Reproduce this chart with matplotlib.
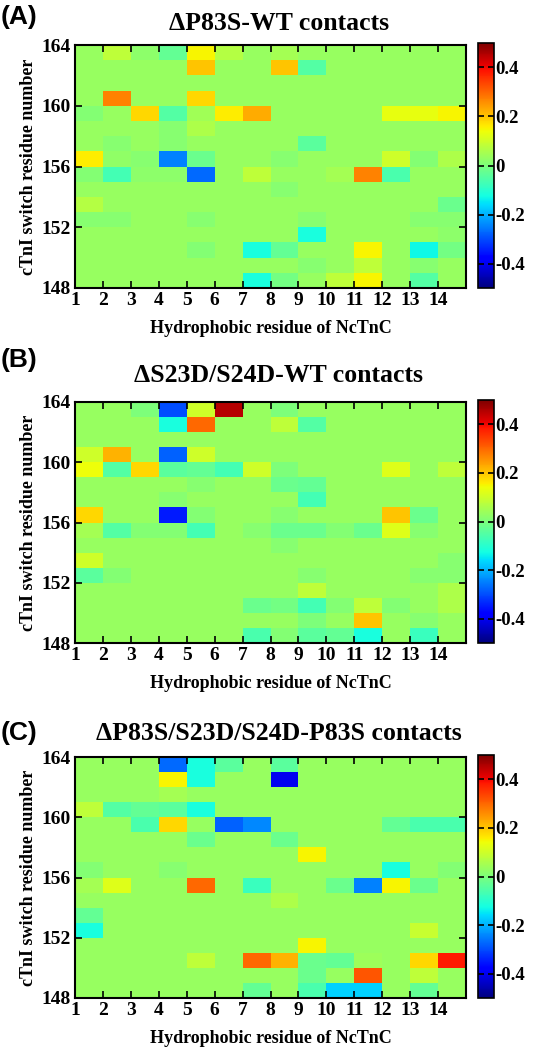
import numpy as np
import matplotlib
matplotlib.use("Agg")
import matplotlib.pyplot as plt

plt.rcParams["axes.unicode_minus"] = False
SERIF = "Liberation Serif"

# Data: contact differences, rows listed top (163) -> bottom (148), cols 1..14
BG = 0.035
residues_x = np.arange(1, 16)       # cell edges, NcTnC hydrophobic residue
residues_y = np.arange(148, 165)    # cell edges, cTnI switch residue

diff_a = [
    [BG, 0.08, 0.02, -0.03, 0.15, 0.07, BG, 0.05, BG, BG, BG, BG, BG, BG],
    [BG, BG, BG, BG, 0.20, BG, BG, 0.20, -0.05, BG, BG, BG, BG, BG],
    [BG, BG, BG, BG, BG, BG, BG, BG, BG, BG, BG, BG, BG, BG],
    [BG, 0.27, BG, BG, 0.18, BG, BG, BG, BG, BG, BG, BG, BG, BG],
    [0.01, BG, 0.18, -0.05, 0.045, 0.16, 0.23, BG, BG, BG, BG, 0.13, 0.13, 0.15],
    [BG, BG, BG, 0.015, 0.06, BG, BG, BG, BG, BG, BG, BG, BG, BG],
    [BG, 0.015, BG, 0.015, BG, BG, BG, BG, -0.04, BG, BG, BG, BG, BG],
    [0.16, 0.025, 0.015, -0.25, -0.02, BG, BG, 0.015, BG, BG, BG, 0.10, 0.01, 0.06],
    [0.01, -0.07, 0.02, 0.02, -0.27, BG, 0.08, BG, BG, 0.05, 0.27, -0.06, BG, BG],
    [BG, BG, BG, BG, BG, BG, BG, 0.015, BG, BG, BG, BG, BG, BG],
    [0.07, BG, BG, BG, BG, BG, BG, BG, BG, BG, BG, BG, BG, -0.02],
    [0.015, 0.015, BG, BG, 0.015, BG, BG, BG, 0.015, BG, BG, BG, 0.015, 0.015],
    [BG, BG, BG, BG, BG, BG, BG, BG, -0.12, BG, BG, BG, BG, 0.02],
    [BG, BG, BG, BG, 0.01, BG, -0.12, -0.03, BG, BG, 0.15, BG, -0.13, -0.01],
    [BG, BG, BG, BG, BG, BG, BG, BG, 0.015, BG, 0.08, BG, 0.015, BG],
    [BG, BG, BG, BG, BG, BG, -0.12, -0.01, BG, 0.08, 0.15, BG, -0.05, BG],
]

diff_b = [
    [BG, BG, 0.0, -0.30, 0.10, 0.45, BG, 0.0, BG, BG, BG, BG, BG, BG],
    [BG, BG, BG, -0.12, 0.30, BG, BG, 0.08, -0.05, BG, BG, BG, BG, BG],
    [BG, BG, BG, BG, BG, BG, BG, BG, BG, BG, BG, BG, BG, BG],
    [0.10, 0.22, BG, -0.28, 0.10, BG, BG, BG, BG, BG, BG, BG, BG, BG],
    [0.14, -0.05, 0.18, -0.04, -0.03, -0.07, 0.10, 0.0, BG, BG, BG, 0.12, BG, 0.08],
    [BG, BG, BG, BG, 0.015, BG, BG, -0.02, -0.03, BG, BG, BG, BG, BG],
    [BG, BG, BG, 0.015, BG, BG, BG, BG, -0.07, BG, BG, BG, BG, BG],
    [0.18, BG, BG, -0.35, 0.01, BG, BG, 0.015, BG, BG, BG, 0.20, -0.02, BG],
    [0.05, -0.05, 0.01, 0.01, -0.07, BG, 0.015, -0.02, -0.02, 0.01, -0.02, 0.12, 0.015, BG],
    [BG, BG, BG, BG, BG, BG, BG, 0.015, BG, BG, BG, BG, BG, BG],
    [0.10, BG, BG, BG, BG, BG, BG, BG, BG, BG, BG, BG, BG, 0.015],
    [-0.04, 0.01, BG, BG, BG, BG, BG, BG, 0.015, BG, BG, BG, 0.015, 0.015],
    [BG, BG, BG, BG, BG, BG, BG, BG, 0.08, BG, BG, BG, BG, 0.06],
    [BG, BG, BG, BG, BG, BG, -0.02, -0.01, -0.07, 0.01, 0.08, 0.01, BG, 0.06],
    [BG, BG, BG, BG, BG, BG, BG, BG, 0.0, BG, 0.20, BG, 0.015, BG],
    [BG, BG, BG, BG, BG, BG, -0.06, 0.01, -0.04, -0.03, -0.12, BG, -0.08, BG],
]

diff_c = [
    [BG, BG, BG, -0.27, -0.12, -0.04, BG, -0.04, BG, BG, BG, BG, BG, BG],
    [BG, BG, BG, 0.15, -0.12, BG, BG, -0.40, BG, BG, BG, BG, BG, BG],
    [BG, BG, BG, 0.05, BG, BG, BG, BG, BG, BG, BG, BG, BG, BG],
    [0.08, -0.05, -0.03, -0.04, -0.12, BG, BG, BG, BG, BG, BG, BG, BG, BG],
    [BG, BG, -0.06, 0.18, BG, -0.28, -0.24, BG, BG, BG, BG, -0.03, -0.06, -0.06],
    [BG, BG, BG, BG, -0.02, BG, BG, -0.02, BG, BG, BG, BG, BG, BG],
    [BG, BG, BG, BG, BG, BG, BG, BG, 0.15, BG, BG, BG, BG, BG],
    [0.01, BG, BG, 0.015, BG, BG, BG, BG, BG, BG, BG, -0.12, BG, 0.01],
    [0.05, 0.12, BG, BG, 0.30, BG, -0.08, BG, BG, -0.02, -0.25, 0.15, -0.02, BG],
    [BG, BG, BG, BG, BG, BG, BG, 0.06, BG, BG, BG, BG, BG, BG],
    [-0.03, BG, BG, BG, BG, BG, BG, BG, BG, BG, BG, BG, BG, BG],
    [-0.12, BG, BG, BG, BG, BG, BG, BG, BG, BG, BG, BG, 0.09, BG],
    [BG, BG, BG, BG, BG, BG, BG, BG, 0.15, BG, BG, BG, BG, BG],
    [BG, BG, BG, BG, 0.08, BG, 0.30, 0.22, -0.02, -0.03, 0.04, BG, 0.18, 0.38],
    [BG, BG, BG, BG, BG, BG, BG, BG, -0.02, BG, 0.32, BG, 0.08, BG],
    [BG, BG, BG, BG, BG, BG, -0.03, BG, -0.06, -0.17, -0.17, BG, -0.03, BG],
]

panels = [
    ("(A)", "\u0394P83S-WT contacts", diff_a),
    ("(B)", "\u0394S23D/S24D-WT contacts", diff_b),
    ("(C)", "\u0394P83S/S23D/S24D-P83S contacts", diff_c),
]
xticks = list(range(1, 15))
yticks = [148, 152, 156, 160, 164]
cticks = [-0.4, -0.2, 0, 0.2, 0.4]

# Layout in pixels (figure 535 x 1050)
W, H = 535, 1050
heat_y = [(45, 288), (402, 643), (757, 998)]
letter_y = [17, 360, 733]
title_y = [23, 375, 733]

fig = plt.figure(figsize=(W / 100, H / 100), dpi=100)

for (letter, title, data), (top, bot), ly, ty in zip(panels, heat_y, letter_y, title_y):
    ax = fig.add_axes([75 / W, 1 - bot / H, (466 - 75) / W, (bot - top) / H])
    cax = fig.add_axes([478 / W, 1 - bot / H, 16 / W, (bot - top + 2) / H])
    arr = np.flipud(np.array(data))
    mesh = ax.pcolormesh(residues_x, residues_y, arr, cmap="jet", vmin=-0.5, vmax=0.5)
    ax.set_xlim(1, 15)
    ax.set_ylim(148, 164)
    ax.set_xticks(list(range(1, 16)))
    ax.set_xticklabels([str(v) for v in xticks] + [""])
    ax.set_yticks(yticks)
    ax.tick_params(direction="in", length=5, width=1.2, top=True, right=True,
                   labelsize=14, pad=3)
    for lab in ax.get_xticklabels() + ax.get_yticklabels():
        lab.set_fontfamily(SERIF)
        lab.set_fontweight("bold")
    for sp in ax.spines.values():
        sp.set_linewidth(1.5)
    ax.set_xlabel("Hydrophobic residue of NcTnC", fontfamily=SERIF,
                  fontweight="bold", fontsize=13, labelpad=8)
    ax.set_ylabel("cTnI switch residue number", fontfamily=SERIF,
                  fontweight="bold", fontsize=13, labelpad=3)

    cb = fig.colorbar(mesh, cax=cax, ticks=cticks)
    cb.outline.set_linewidth(1.2)
    cax.tick_params(direction="in", length=4, width=1.2, left=True, right=True,
                    labelsize=13.5, pad=1)
    cax.set_yticklabels(["-0.4", "-0.2", "0", "0.2", "0.4"])
    for lab in cax.get_yticklabels():
        lab.set_fontfamily(SERIF)
        lab.set_fontweight("bold")

    fig.text(279 / W, 1 - ty / H, title, ha="center", va="center",
             fontfamily=SERIF, fontweight="bold", fontsize=18.5)
    fig.text(1 / W, 1 - ly / H, letter, ha="left", va="center",
             fontfamily="Liberation Sans", fontweight="bold", fontsize=19)

fig.savefig("out.png", dpi=100)
